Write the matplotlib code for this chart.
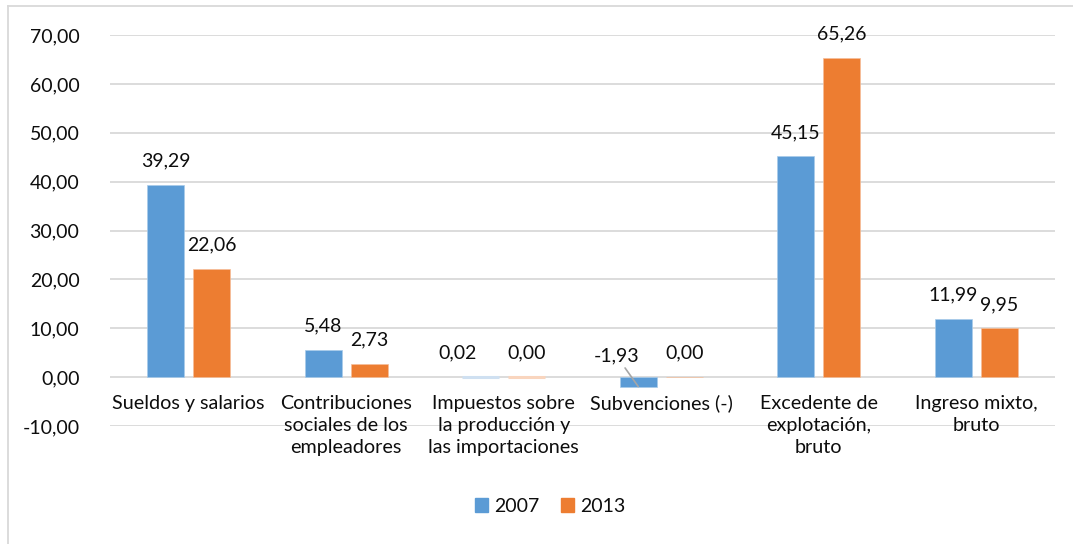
import matplotlib
matplotlib.use("Agg")
import matplotlib.pyplot as plt
from matplotlib.lines import Line2D
from matplotlib.patches import Patch
import numpy as np

categories = ["Sueldos y salarios",
              "Contribuciones\nsociales de los\nempleadores",
              "Impuestos sobre\nla producción y\nlas importaciones",
              "Subvenciones (-)",
              "Excedente de\nexplotación,\nbruto",
              "Ingreso mixto,\nbruto"]
series_names = ["2007", "2013"]
values_2007 = [39.29, 5.48, 0.02, -1.93, 45.15, 11.99]
values_2013 = [22.06, 2.73, 0.00, 0.00, 65.26, 9.95]
yticks = [-10, 0, 10, 20, 30, 40, 50, 60, 70]

colors = ["#5B9BD5", "#ED7D31"]
edge_colors = ["#A9CBEA", "#F5BE9A"]
FONT = "Lato"
TXT = "#0d0d0d"

W, H = 1073, 544
fig = plt.figure(figsize=(W / 100, H / 100), dpi=100)
ax = fig.add_axes([110 / W, (H - 426) / H, (1055 - 110) / W, (426 - 35) / H])

x = np.arange(len(categories))
bw = 0.235
off = 0.146
series = [values_2007, values_2013]
for i, vals in enumerate(series):
    bc = ax.bar(x + (i * 2 - 1) * off, vals, width=bw, color=colors[i],
                edgecolor=edge_colors[i], linewidth=0.5, zorder=3)
    # the tiny "Impuestos" bars show as faint coloured strips on the zero line
    bc[2].set_linewidth(2.2)
    bc[2].set_edgecolor(["#CFE0F1", "#F9D5BE"][i])

ax.set_xlim(-0.5, len(categories) - 0.5)
ax.set_ylim(-10, 70)
ax.set_yticks(yticks)
ax.set_yticklabels([f"{t:.2f}".replace(".", ",") for t in yticks],
                   fontsize=14, family=FONT, color=TXT)
ax.tick_params(axis="y", length=0, pad=22)
ax.tick_params(axis="x", length=0, labelbottom=False)
ax.grid(axis="y", color="#D9D9D9", linewidth=1.3, zorder=0)
for s in ax.spines.values():
    s.set_visible(False)

# category labels below the zero line
for xi, cat in zip(x, categories):
    ax.text(xi, -3.6, cat, ha="center", va="top", fontsize=14.2, family=FONT,
            color=TXT, linespacing=1.38)

# data labels (pixel offsets -> points at 100 dpi)
px = 72 / 100
special = {(0, 2): (-23, 24), (0, 3): (-22, 31)}
for i, vals in enumerate(series):
    for j, v in enumerate(vals):
        xb = x[j] + (i * 2 - 1) * off
        top = max(v, 0)
        dx, dy = special.get((i, j), (0, 24))
        label = f"{v:.2f}".replace(".", ",")
        if (i, j) == (0, 3):
            ax.annotate(label, xy=(xb, v),
                        xytext=(dx * px, dy * px), textcoords="offset points",
                        ha="center", va="center", fontsize=14, family=FONT,
                        color=TXT,
                        arrowprops=dict(arrowstyle="-", color="#A6A6A6",
                                        lw=1.2, shrinkA=1, shrinkB=0))
        else:
            ax.annotate(label, xy=(xb, top),
                        xytext=(dx * px, dy * px), textcoords="offset points",
                        ha="center", va="center", fontsize=14, family=FONT,
                        color=TXT)

handles = [Patch(facecolor=c, edgecolor=c) for c in colors]
fig.legend(handles, series_names, loc="center", bbox_to_anchor=(550 / W, (H - 506) / H),
           ncol=2, frameon=False, prop={"family": FONT, "size": 14},
           handlelength=0.7, handleheight=0.7, handletextpad=0.3,
           columnspacing=1.1, labelcolor=TXT)

# outer chart frame (only top and left visible)
fig.add_artist(Line2D([8 / W, 1], [1 - 6 / H, 1 - 6 / H], color="#D9D9D9", lw=1.3))
fig.add_artist(Line2D([8 / W, 8 / W], [0, 1 - 6 / H], color="#D9D9D9", lw=1.3))

fig.savefig("out.png", dpi=100)
